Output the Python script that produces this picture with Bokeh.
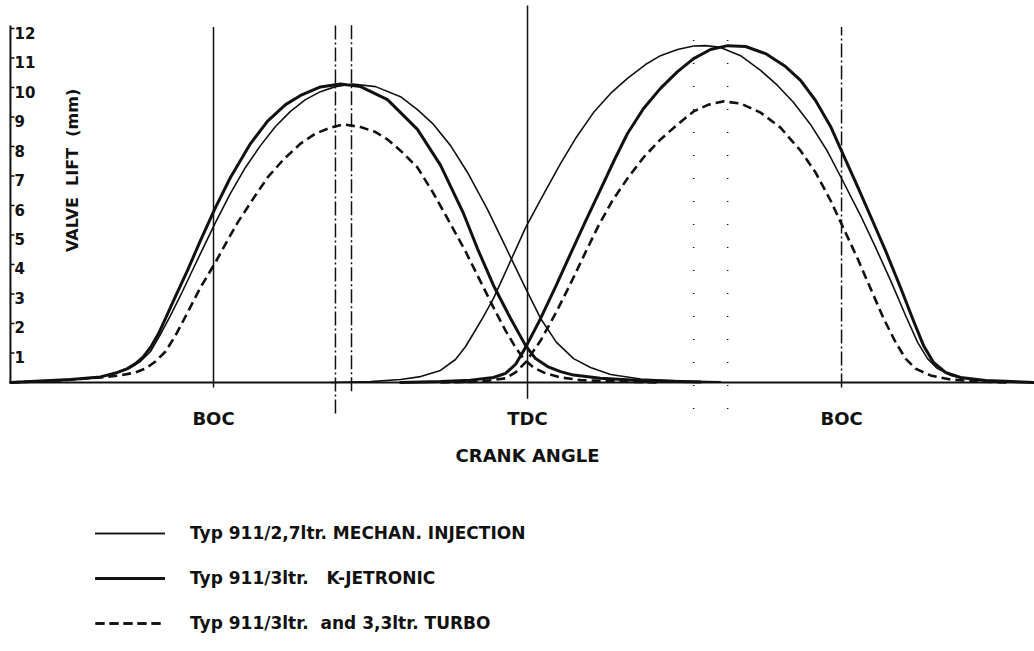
from math import pi

from bokeh.core.properties import value
from bokeh.embed import file_html
from bokeh.models import Label, Legend, LegendItem, Range1d
from bokeh.plotting import figure
from bokeh.resources import INLINE

# Valve lift (mm) against crank angle (degrees, TDC = 0, BOC = -180 / +180)

# Typ 911/2,7 ltr. mechanical injection
ex_mech_angle = [-296.4, -279.2, -262.0, -244.8, -235.0, -227.6, -221.9, -216.1, -210.4, -204.7,
                 -198.9, -193.2, -187.5, -178.9, -170.3, -161.7, -153.1, -144.5, -135.9, -127.3,
                 -118.7, -110.1, -100.3, -87.1, -72.8, -63.1, -53.9, -44.1, -34.4, -22.9,
                 -13.8, -6.9, -1.1, 7.5, 16.6, 26.4, 36.1, 47.6, 64.8, 87.7, 110.6]
ex_mech_lift = [0.00, 0.05, 0.10, 0.19, 0.34, 0.51, 0.71, 1.05, 1.63, 2.27,
                2.95, 3.66, 4.37, 5.42, 6.41, 7.29, 8.03, 8.68, 9.19, 9.59,
                9.86, 10.03, 10.12, 10.03, 9.69, 9.25, 8.75, 8.03, 7.12, 5.86,
                4.75, 3.90, 3.19, 2.17, 1.36, 0.81, 0.51, 0.27, 0.12, 0.05, 0.02]
in_mech_angle = [-112.9, -90.0, -72.8, -61.3, -49.9, -41.3, -35.5, -31.0, -25.2, -19.5,
                 -13.8, -8.6, -1.1, 7.5, 18.9, 27.5, 37.8, 47.6, 57.3, 67.6,
                 76.2, 86.0, 95.2, 102.0, 110.6, 122.1, 133.6, 143.3, 152.5, 162.2,
                 172.0, 181.2, 190.9, 199.5, 208.1, 216.7, 223.6, 229.3, 235.0, 242.5,
                 254.0, 271.2, 290.6]
in_mech_lift = [0.00, 0.03, 0.10, 0.20, 0.41, 0.78, 1.22, 1.66, 2.24, 2.85,
                3.59, 4.27, 5.25, 6.20, 7.42, 8.27, 9.15, 9.80, 10.31, 10.78,
                11.08, 11.29, 11.41, 11.42, 11.36, 11.08, 10.58, 10.07, 9.49, 8.75,
                7.83, 6.78, 5.66, 4.58, 3.46, 2.27, 1.36, 0.81, 0.47, 0.24,
                0.10, 0.03, 0.00]

# Typ 911/3 ltr. K-Jetronic
ex_kjet_angle = [-296.4, -279.2, -262.0, -244.8, -235.0, -229.3, -224.7, -220.1, -216.1, -211.5,
                 -207.5, -201.8, -194.9, -187.5, -178.9, -170.3, -158.8, -149.0, -138.7, -130.1,
                 -118.7, -107.2, -95.7, -80.3, -63.1, -49.9, -36.7, -28.7, -19.5, -9.7,
                 -1.1, 4.6, 11.5, 18.9, 26.4, 41.8, 64.8, 99.2]
ex_kjet_lift = [0.00, 0.05, 0.10, 0.19, 0.34, 0.47, 0.64, 0.88, 1.19, 1.66,
                2.17, 2.92, 3.80, 4.81, 5.93, 6.95, 8.10, 8.86, 9.42, 9.73,
                10.02, 10.12, 10.03, 9.59, 8.58, 7.37, 5.73, 4.54, 3.29, 2.17,
                1.25, 0.81, 0.54, 0.37, 0.25, 0.14, 0.07, 0.02]
in_kjet_angle = [-72.8, -49.9, -32.7, -19.5, -12.6, -6.9, -1.1, 7.5, 16.1, 24.7,
                 33.2, 41.8, 49.9, 57.3, 66.5, 76.2, 86.0, 95.2, 104.9, 114.7,
                 125.0, 136.4, 147.9, 156.5, 165.1, 173.7, 181.2, 189.2, 197.2, 205.2,
                 213.8, 220.7, 227.0, 232.7, 239.6, 248.2, 262.6, 290.6]
in_kjet_lift = [0.00, 0.03, 0.08, 0.17, 0.31, 0.61, 1.19, 2.17, 3.25, 4.37,
                5.46, 6.54, 7.56, 8.44, 9.29, 9.97, 10.54, 10.98, 11.29, 11.42,
                11.39, 11.15, 10.71, 10.24, 9.56, 8.68, 7.69, 6.64, 5.56, 4.47,
                3.22, 2.17, 1.25, 0.68, 0.34, 0.17, 0.07, 0.00]

# Typ 911/3 ltr. and 3,3 ltr. Turbo
ex_turbo_angle = [-296.4, -267.7, -244.8, -233.3, -224.7, -219.0, -213.3, -207.5, -201.8, -194.9,
                  -187.5, -178.9, -172.6, -166.2, -157.6, -149.0, -139.9, -130.1, -121.5, -112.9,
                  -105.5, -95.7, -87.1, -80.3, -72.8, -63.1, -54.5, -45.9, -35.5, -26.9,
                  -19.5, -12.6, -6.9, -2.3, 3.4, 9.2, 18.9, 30.4, 53.3, 76.2]
ex_turbo_lift = [0.00, 0.07, 0.17, 0.24, 0.34, 0.47, 0.71, 1.05, 1.59, 2.37,
                 3.22, 4.07, 4.75, 5.42, 6.20, 6.95, 7.56, 8.10, 8.44, 8.64,
                 8.75, 8.66, 8.49, 8.24, 7.86, 7.29, 6.47, 5.56, 4.44, 3.42,
                 2.54, 1.76, 1.19, 0.81, 0.51, 0.34, 0.17, 0.08, 0.03, 0.00]
in_turbo_angle = [-49.9, -26.9, -12.6, -6.9, -1.1, 7.5, 16.1, 24.7, 33.2, 40.7,
                  48.7, 57.3, 66.5, 76.2, 86.0, 95.2, 103.8, 112.4, 122.1, 133.6,
                  145.0, 156.5, 165.1, 173.7, 181.2, 189.2, 196.6, 204.1, 211.0, 216.7,
                  222.4, 231.0, 242.5, 259.7, 276.9]
in_turbo_lift = [0.00, 0.03, 0.14, 0.34, 0.68, 1.42, 2.34, 3.36, 4.41, 5.32,
                 6.17, 6.92, 7.63, 8.24, 8.75, 9.19, 9.42, 9.53, 9.46, 9.15,
                 8.64, 7.86, 7.12, 6.17, 5.22, 4.20, 3.19, 2.17, 1.36, 0.81,
                 0.47, 0.24, 0.10, 0.03, 0.00]

# Reference lines: solid, dash-dot and dotted verticals (angle, top, bottom)
solid_angle = [-180.0, 0.0]
solid_top = [12.05, 12.78]
solid_bottom = [-0.17, -0.55]
dashdot_angle = [-110.1, -100.9, 180.0]
dashdot_top = [12.2, 12.2, 12.05]
dashdot_bottom = [-1.05, -0.3, -0.17]
dotted_angle = [95.2, 114.7]
dotted_top = [11.9, 12.2]
dotted_bottom = [-0.9, -0.9]

lift_ticks = [1, 2, 3, 4, 5, 6, 7, 8, 9, 10, 11, 12]
lift_tick_labels = [str(t) for t in lift_ticks]
angle_ticks = [-180.0, 0.0, 180.0]
angle_tick_labels = ["BOC", "TDC", "BOC"]

legend_labels = [
    "Typ 911/2,7ltr. MECHAN. INJECTION",
    "Typ 911/3ltr.\u00a0\u00a0\u00a0K-JETRONIC",
    "Typ 911/3ltr.\u00a0\u00a0and 3,3ltr. TURBO",
]

X_MIN, X_MAX = -302.1, 290.6
Y_MIN, Y_MAX = -9.12, 12.95
AXIS_X = -296.4
FONT = "DejaVu Sans"
INK = "#111111"

p = figure(width=1034, height=651, output_backend="svg", toolbar_location=None,
           x_range=Range1d(X_MIN, X_MAX), y_range=Range1d(Y_MIN, Y_MAX),
           x_axis_location=None, y_axis_location=None, min_border=0,
           outline_line_color=None, background_fill_color="white",
           border_fill_color="white")
p.grid.visible = False

# axis frame: vertical lift axis and crank-angle baseline
p.segment(x0=[AXIS_X], y0=[0.0], x1=[AXIS_X], y1=[12.1], line_color=INK, line_width=2)
p.segment(x0=[AXIS_X], y0=[0.0], x1=[X_MAX], y1=[0.0], line_color=INK, line_width=2)
p.segment(x0=[AXIS_X] * len(lift_ticks), y0=lift_ticks,
          x1=[AXIS_X + 2.3] * len(lift_ticks), y1=lift_ticks, line_color=INK, line_width=1.5)

# vertical reference lines
p.segment(x0=solid_angle, y0=solid_bottom, x1=solid_angle, y1=solid_top,
          line_color=INK, line_width=1.5)
p.segment(x0=dashdot_angle, y0=dashdot_bottom, x1=dashdot_angle, y1=dashdot_top,
          line_color=INK, line_width=1.5, line_dash="14 3 2 3")
p.segment(x0=dotted_angle, y0=dotted_bottom, x1=dotted_angle, y1=dotted_top,
          line_color=INK, line_width=1.5, line_dash="1 22")

# lift curves
common = dict(line_color=INK, line_join="round", line_cap="round")
r_ex_mech = p.line(ex_mech_angle, ex_mech_lift, line_width=1.6, **common)
r_in_mech = p.line(in_mech_angle, in_mech_lift, line_width=1.6, **common)
r_ex_kjet = p.line(ex_kjet_angle, ex_kjet_lift, line_width=3.0, **common)
r_in_kjet = p.line(in_kjet_angle, in_kjet_lift, line_width=3.0, **common)
r_ex_turbo = p.line(ex_turbo_angle, ex_turbo_lift, line_width=2.6, line_dash="9 5",
                    line_color=INK, line_join="round")
r_in_turbo = p.line(in_turbo_angle, in_turbo_lift, line_width=2.6, line_dash="9 5",
                    line_color=INK, line_join="round")

# tick labels
p.text(x=[AXIS_X + 2.3] * len(lift_ticks), y=lift_ticks, text=lift_tick_labels,
       text_font=value(FONT), text_font_style="bold", text_font_size="15px",
       text_color=INK, text_align="left", text_baseline="middle", y_offset=4)
p.text(x=angle_ticks, y=[-1.22] * len(angle_ticks), text=angle_tick_labels,
       text_font=value(FONT), text_font_style="bold", text_font_size="18px",
       text_color=INK, text_align="center", text_baseline="middle")

p.add_layout(Label(x=0.0, y=-2.47, text="CRANK ANGLE", text_font=FONT,
                   text_font_style="bold", text_font_size="18px", text_color=INK,
                   text_align="center", text_baseline="middle"))
p.add_layout(Label(x=-260.8, y=7.19, text="VALVE\u00a0\u00a0LIFT\u00a0\u00a0(mm)", angle=pi / 2,
                   text_font=FONT, text_font_style="bold", text_font_size="16px",
                   text_color=INK, text_align="center", text_baseline="middle"))

legend = Legend(
    items=[
        LegendItem(label=legend_labels[0], renderers=[r_ex_mech, r_in_mech]),
        LegendItem(label=legend_labels[1], renderers=[r_ex_kjet, r_in_kjet]),
        LegendItem(label=legend_labels[2], renderers=[r_ex_turbo, r_in_turbo]),
    ],
    location=(95, 18), orientation="vertical",
    glyph_width=70, glyph_height=20, label_height=20, spacing=25, label_standoff=25,
    padding=0, margin=0, border_line_color=None, background_fill_alpha=0,
    label_text_font=FONT, label_text_font_style="bold", label_text_font_size="17px",
    label_text_color=INK,
)
p.add_layout(legend)

open("out.html", "w").write(file_html(p, INLINE))
